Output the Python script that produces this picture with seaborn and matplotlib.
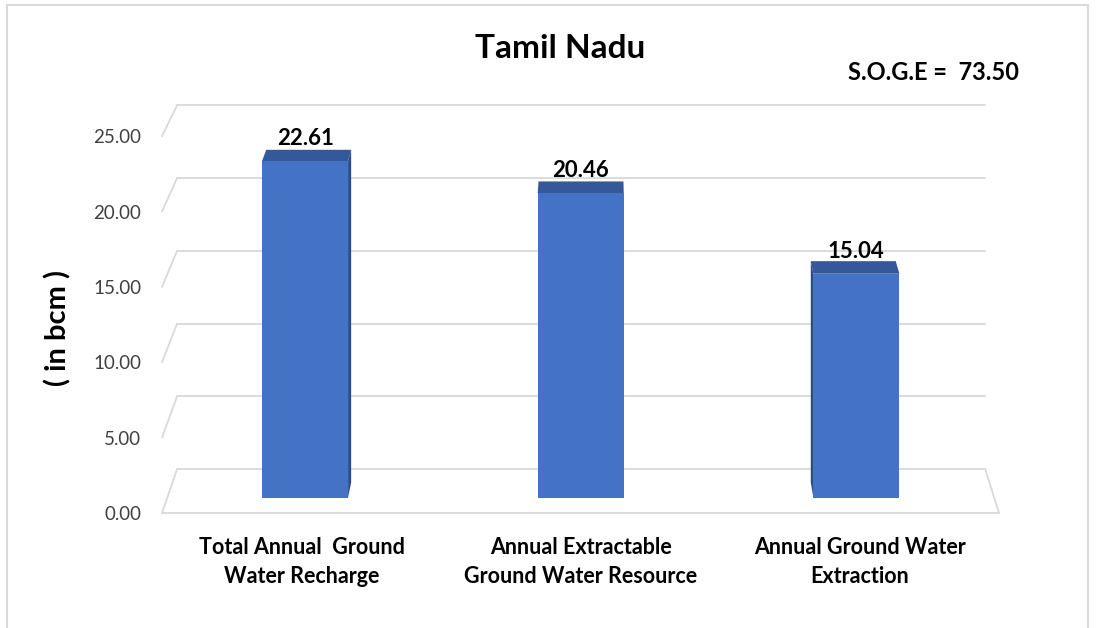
import numpy as np
import pandas as pd
import matplotlib
matplotlib.use("Agg")
import matplotlib.pyplot as plt
import seaborn as sns
from matplotlib.transforms import Affine2D, IdentityTransform
from matplotlib.patches import Polygon, Rectangle
from matplotlib.lines import Line2D

# ---- data -------------------------------------------------------------
categories = [
    "Total Annual  Ground\nWater Recharge",
    "Annual Extractable\nGround Water Resource",
    "Annual Ground Water\nExtraction",
]
values = [22.61, 20.46, 15.04]
y_ticks = [0, 5, 10, 15, 20, 25]
title = "Tamil Nadu"
soge_text = "S.O.G.E =  73.50"
y_label = "( in bcm )"

# ---- style ------------------------------------------------------------
BAR = "#4472C4"
TOP = "#34589a"
SIDE = "#2b4c8a"
GRID = "#d9d9d9"
TICK = "#404040"

sns.set_theme(style="white")
plt.rcParams["font.family"] = ["Lato", "DejaVu Sans"]

W, H, DPI = 1105, 628, 100
fig = plt.figure(figsize=(W / DPI, H / DPI), dpi=DPI)
fig.patch.set_facecolor("white")

# front plane of the pseudo-3D box
ax = fig.add_axes([162 / W, (H - 513) / H, 837 / W, 407 / H])
ax.set_facecolor("none")

df = pd.DataFrame({"category": categories, "value": values})
sns.barplot(data=df, x="category", y="value", color=BAR, width=0.312,
            saturation=1, ax=ax, zorder=3)
ax.set_xlim(-0.5, 2.5)
ax.set_ylim(0, 27)
ax.set_xlabel("")
ax.set_ylabel("")
for sp in ax.spines.values():
    sp.set_visible(False)

# perspective: depth planes shrink towards a vanishing point
VPX, VPY = 600.0, H + 760.0
S_BAR_FRONT = 0.988
S_BAR_BACK = 0.976
S_WALL = 0.9655


def depth(s):
    return Affine2D().translate(-VPX, -VPY).scale(s).translate(VPX, VPY)


def plane(s):
    return ax.transData + depth(s)


def to_disp(x, y, s):
    return plane(s).transform((x, y))


# ---- walls and floor ---------------------------------------------------
x_lo, x_hi = ax.get_xlim()
for v in y_ticks:
    ax.add_line(Line2D([x_lo, x_hi], [v, v], color=GRID, lw=1.3,
                       transform=plane(S_WALL), zorder=1, clip_on=False))
    p0 = to_disp(x_lo, v, 1.0)
    p1 = to_disp(x_lo, v, S_WALL)
    fig.add_artist(Line2D([p0[0], p1[0]], [p0[1], p1[1]], color=GRID, lw=1.3,
                          transform=IdentityTransform(), zorder=1))
# floor front edge and right edge
ax.add_line(Line2D([x_lo, x_hi], [0, 0], color=GRID, lw=1.3,
                   transform=ax.transData, zorder=1, clip_on=False))
p0 = to_disp(x_hi, 0, 1.0)
p1 = to_disp(x_hi, 0, S_WALL)
fig.add_artist(Line2D([p0[0], p1[0]], [p0[1], p1[1]], color=GRID, lw=1.3,
                      transform=IdentityTransform(), zorder=1))

# ---- bars: front faces from seaborn, plus top and side faces ------------
for patch, val in zip(ax.patches, values):
    patch.set_transform(plane(S_BAR_FRONT))
    patch.set_clip_on(False)
    patch.set_edgecolor("none")
    x0 = patch.get_x()
    x1 = x0 + patch.get_width()
    h = patch.get_height()

    top = [to_disp(x0, h, S_BAR_FRONT), to_disp(x1, h, S_BAR_FRONT),
           to_disp(x1, h, S_BAR_BACK), to_disp(x0, h, S_BAR_BACK)]
    ax.add_patch(Polygon(top, closed=True, facecolor=TOP, edgecolor="none",
                         transform=IdentityTransform(), zorder=2.5, clip_on=False))

    fx0 = to_disp(x0, 0, S_BAR_FRONT)[0]
    fx1 = to_disp(x1, 0, S_BAR_FRONT)[0]
    side_x = None
    if fx1 < VPX:
        side_x = x1
    elif fx0 > VPX:
        side_x = x0
    if side_x is not None:
        side = [to_disp(side_x, h, S_BAR_FRONT), to_disp(side_x, 0, S_BAR_FRONT),
                to_disp(side_x, 0, S_BAR_BACK), to_disp(side_x, h, S_BAR_BACK)]
        ax.add_patch(Polygon(side, closed=True, facecolor=SIDE, edgecolor="none",
                             transform=IdentityTransform(), zorder=2.5, clip_on=False))

    ax.annotate(f"{val:.2f}", xy=(x0 + patch.get_width() / 2, h),
                xycoords=plane(S_BAR_FRONT), xytext=(0, 11.5),
                textcoords="offset points", ha="center", va="baseline",
                fontsize=16, fontweight="bold", color="black", zorder=5)

# ---- axes text ----------------------------------------------------------
ax.set_yticks(y_ticks)
ax.set_yticklabels([f"{t:.2f}" for t in y_ticks])
ax.tick_params(axis="y", length=0, pad=15, labelsize=13.5, labelcolor=TICK)
ax.tick_params(axis="x", length=0, pad=17.5, labelsize=15.5, labelcolor="black")
for t in ax.get_xticklabels():
    t.set_fontweight("bold")
    t.set_linespacing(1.45)

fig.text(58 / W, 1 - 328 / H, y_label, rotation=90, ha="center", va="center",
         fontsize=21, fontweight="bold", color="black")
fig.text(560 / W, 1 - 48 / H, title, ha="center", va="center",
         fontsize=24, fontweight="bold", color="black")
fig.text(934 / W, 1 - 72 / H, soge_text, ha="center", va="center",
         fontsize=17, fontweight="bold", color="black")

# chart-area border
fig.add_artist(Rectangle((7, -10), 1081, H - 5 + 10, fill=False,
                         edgecolor=GRID, lw=1.5, transform=IdentityTransform()))

fig.savefig("out.png", dpi=DPI)
